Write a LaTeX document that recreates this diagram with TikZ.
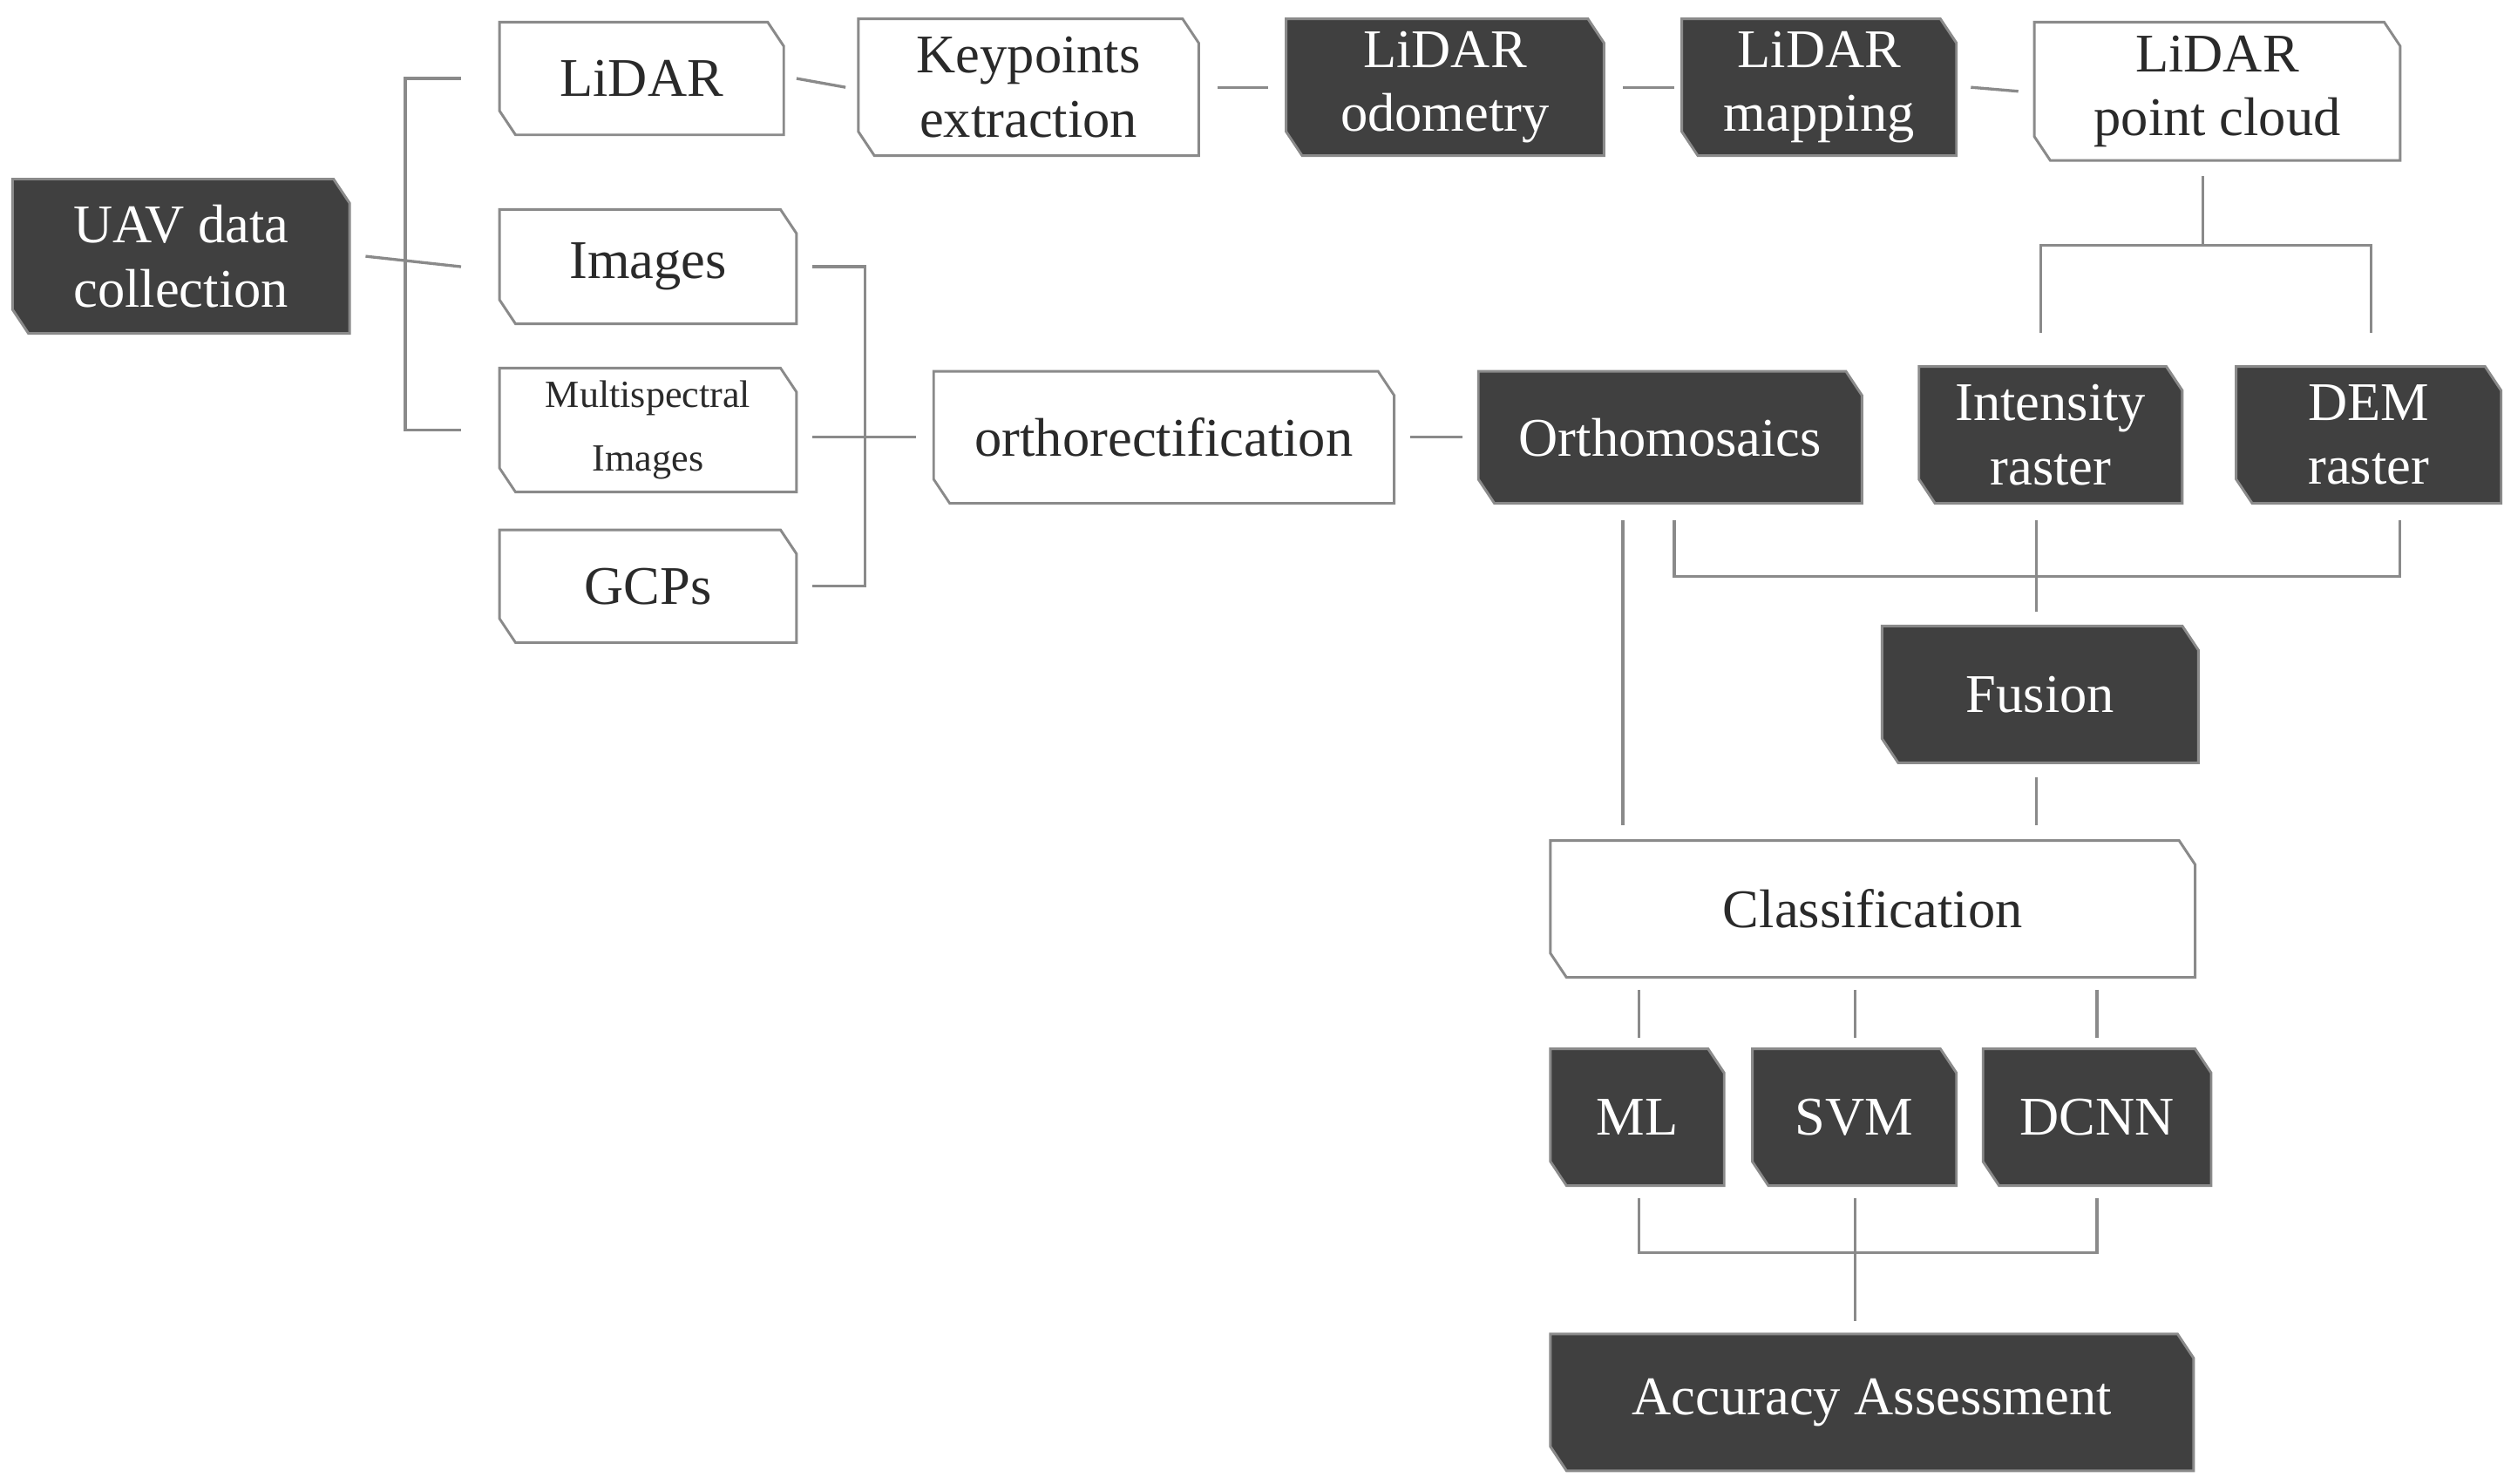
\documentclass[tikz,border=0pt]{standalone}
\usepackage{fontspec}
\setmainfont{Liberation Serif}
\definecolor{dk}{HTML}{404040}
\definecolor{ln}{HTML}{8A8A8A}
\definecolor{tx}{HTML}{2A2A2A}
\tikzset{
  base/.style={inner sep=0pt, align=center, font=\fontsize{34}{40}\selectfont},
  dark/.style={base, text=white},
  light/.style={base, text=tx},
  outl/.style={draw=ln, line width=1.6pt},
  conn/.style={draw=ln, line width=1.8pt},
}
% name, x1, y1, x2, y2, style(dark/light), text
\newcommand\chbox[7]{%
  \node[#6, minimum width={#4-#2}, minimum height={#5-#3}] (#1) at ({(#2+#4)/2},{(#3+#5)/2}) {#7};
  \ifx#6d\fi
}
\newcommand\chshape[2]{% name, fill
  \path[outl, fill=#2] (#1.north west) -- ([xshift=-10pt]#1.north east) -- ([yshift=-15pt]#1.north east)
    -- (#1.south east) -- ([xshift=10pt]#1.south west) -- ([yshift=15pt]#1.south west) -- cycle;
}
\begin{document}
\begin{tikzpicture}[x=1pt,y=-1pt]
\useasboundingbox[fill=white] (0,0) rectangle (1563,926);
% nodes
\chbox{uav}{8}{112}{218}{208}{dark}{UAV data\\collection}
\chbox{lidar}{312}{14}{489}{84}{light}{LiDAR}
\chbox{img}{312}{131}{497}{202}{light}{Images}
\chbox{ms}{312}{230}{497}{307}{light}{\fontsize{24}{32}\selectfont Multispectral\\\fontsize{24}{32}\selectfont Images}
\chbox{gcp}{312}{331}{497}{401}{light}{GCPs}
\chbox{kp}{536}{12}{748}{97}{light}{Keypoints\\extraction}
\chbox{odo}{803}{12}{1001}{97}{dark}{LiDAR\\odometry}
\chbox{map}{1050}{12}{1221}{97}{dark}{LiDAR\\mapping}
\chbox{pc}{1270}{14}{1498}{100}{light}{LiDAR\\point cloud}
\chbox{ortho}{583}{232}{870}{314}{light}{orthorectification}
\chbox{om}{923}{232}{1162}{314}{dark}{Orthomosaics}
\chbox{int}{1198}{229}{1362}{314}{dark}{Intensity\\raster}
\chbox{dem}{1396}{229}{1561}{314}{dark}{DEM\\raster}
\chbox{fus}{1175}{391}{1372}{476}{dark}{Fusion}
\chbox{cls}{968}{525}{1370}{610}{light}{Classification}
\chbox{ml}{968}{655}{1076}{740}{dark}{ML}
\chbox{svm}{1094}{655}{1221}{740}{dark}{SVM}
\chbox{dcnn}{1238}{655}{1380}{740}{dark}{DCNN}
\chbox{acc}{968}{833}{1369}{918}{dark}{Accuracy Assessment}
% outlines (behind text)
\begin{scope}[on background layer/.try]
\end{scope}
\foreach \n in {lidar,img,ms,gcp,kp,pc,ortho,cls}{\chshape{\n}{white}}
\foreach \n in {uav,odo,map,om,int,dem,fus,ml,svm,dcnn,acc}{\chshape{\n}{dk}}
% redraw texts on top
\chbox{uav}{8}{112}{218}{208}{dark}{UAV data\\collection}
\chbox{odo}{803}{12}{1001}{97}{dark}{LiDAR\\odometry}
\chbox{map}{1050}{12}{1221}{97}{dark}{LiDAR\\mapping}
\chbox{om}{923}{232}{1162}{314}{dark}{Orthomosaics}
\chbox{int}{1198}{229}{1362}{314}{dark}{Intensity\\raster}
\chbox{dem}{1396}{229}{1561}{314}{dark}{DEM\\raster}
\chbox{fus}{1175}{391}{1372}{476}{dark}{Fusion}
\chbox{ml}{968}{655}{1076}{740}{dark}{ML}
\chbox{svm}{1094}{655}{1221}{740}{dark}{SVM}
\chbox{dcnn}{1238}{655}{1380}{740}{dark}{DCNN}
\chbox{acc}{968}{833}{1369}{918}{dark}{Accuracy Assessment}
\chbox{lidar}{312}{14}{489}{84}{light}{LiDAR}
\chbox{img}{312}{131}{497}{202}{light}{Images}
\chbox{ms}{312}{230}{497}{307}{light}{\fontsize{24}{32}\selectfont Multispectral\\\fontsize{24}{32}\selectfont Images}
\chbox{gcp}{312}{331}{497}{401}{light}{GCPs}
\chbox{kp}{536}{12}{748}{97}{light}{Keypoints\\extraction}
\chbox{pc}{1270}{14}{1498}{100}{light}{LiDAR\\point cloud}
\chbox{ortho}{583}{232}{870}{314}{light}{orthorectification}
\chbox{cls}{968}{525}{1370}{610}{light}{Classification}
% connectors
\coordinate (j1) at (253,166);
\draw[conn] ([xshift=10pt]uav.east) -- ([xshift=-24pt]img.west);
\draw[conn] ([xshift=-24pt]lidar.west) -| (j1 |- ms.west) -- ([xshift=-24pt]ms.west);
\draw[conn] ([xshift=8pt]lidar.east) -- ([xshift=-8pt]kp.west);
\draw[conn] ([xshift=12pt]kp.east) -- ([xshift=-11pt]odo.west);
\draw[conn] ([xshift=12pt]odo.east) -- ([xshift=-5pt]map.west);
\draw[conn] ([xshift=9pt]map.east) -- ([xshift=-10pt]pc.west);
\coordinate (j2) at (540,273);
\draw[conn] ([xshift=10pt]img.east) -| (j2) |- ([xshift=10pt]gcp.east);
\draw[conn] ([xshift=10pt]ms.east |- j2) -- ([xshift=-11pt]ortho.west |- j2);
\draw[conn] ([xshift=10pt]ortho.east |- j2) -- ([xshift=-10pt]om.west |- j2);
\coordinate (j3) at (1375,153);
\draw[conn] (1375,110) -- (j3);
\draw[conn] (1274,208) |- (j3) -| (1480,208);
\coordinate (j4) at (1271,360);
\draw[conn] (1045,325) |- (1498,360) -- (1498,325);
\draw[conn] (1271,325) -- (1271,382);
\draw[conn] (1013,325) -- (1013,515);
\draw[conn] (1271,485) -- (1271,515);
\foreach \x/\n in {1023/ml,1158/svm,1309/dcnn}{
  \draw[conn] (\x,618) -- (\x,648);
}
\draw[conn] (1023,748) |- (1309,782) -- (1309,748);
\draw[conn] (1158,748) -- (1158,825);
\end{tikzpicture}
\end{document}
